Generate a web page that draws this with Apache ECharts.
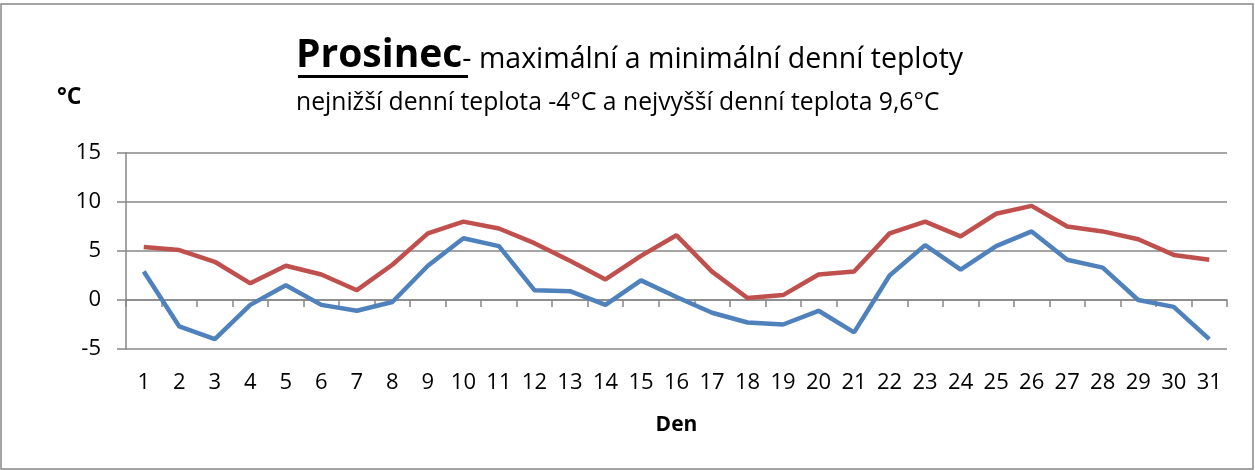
<!DOCTYPE html>
<html>
<head>
<meta charset="utf-8">
<script src="https://cdn.jsdelivr.net/npm/echarts@6/dist/echarts.min.js"></script>
<style>
html, body { margin: 0; padding: 0; background: #fff; }
#chart { width: 1255px; height: 470px; }
</style>
</head>
<body>
<div id="chart"></div>
<script>
var days = [];
for (var d = 1; d <= 31; d++) days.push(String(d));

// denní maxima a minima (°C)
var maxTemp = [5.4, 5.1, 3.9, 1.7, 3.5, 2.6, 1.0, 3.6, 6.8, 8.0, 7.3, 5.8, 4.0, 2.1, 4.5, 6.6,
	2.9, 0.2, 0.5, 2.6, 2.9, 6.8, 8.0, 6.5, 8.8, 9.6, 7.5, 7.0, 6.2, 4.6, 4.1];
var minTemp = [2.9, -2.7, -4.0, -0.5, 1.5, -0.5, -1.1, -0.2, 3.5, 6.3, 5.5, 1.0, 0.9, -0.5, 2.0, 0.3,
	-1.3, -2.3, -2.5, -1.1, -3.3, 2.5, 5.6, 3.1, 5.5, 7.0, 4.1, 3.3, 0.0, -0.7, -4.0];

var FONT = 'Open Sans';
var GRAY = '#878787';

var myChart = echarts.init(document.getElementById('chart'));
var option = {
	animation: false,
	textStyle: { fontFamily: FONT, color: '#000' },
	title: [{
		text: '{a|Prosinec}{b|- maximální a minimální denní teploty}',
		left: 296,
		top: 36,
		padding: 0,
		textStyle: {
			rich: {
				a: { fontFamily: FONT, fontSize: 39, fontWeight: 'bold', color: '#000' },
				b: { fontFamily: FONT, fontSize: 28.5, fontWeight: 'normal', color: '#000', padding: [8, 0, 0, 0] }
			}
		}
	}, {
		text: 'nejnižší denní teplota -4°C a nejvyšší denní teplota 9,6°C',
		left: 296,
		top: 90,
		padding: 0,
		textStyle: { fontFamily: FONT, fontSize: 24.7, fontWeight: 'normal', color: '#000' }
	}, {
		text: '°C',
		left: 57,
		top: 86,
		padding: 0,
		textStyle: { fontFamily: FONT, fontSize: 23, fontWeight: 'bold', color: '#000' }
	}],
	graphic: [{
		type: 'rect',
		shape: { x: 1, y: 4, width: 1252, height: 465 },
		style: { fill: 'none', stroke: GRAY, lineWidth: 1.5 },
		silent: true
	}, {
		// podtržení "Prosinec"
		type: 'rect',
		shape: { x: 298, y: 75, width: 170, height: 3 },
		style: { fill: '#000' },
		silent: true
	}],
	grid: { left: 126, right: 28, top: 153, bottom: 121, outerBoundsMode: 'none', containLabel: false },
	xAxis: {
		type: 'category',
		data: days,
		boundaryGap: true,
		name: 'Den',
		nameLocation: 'middle',
		nameGap: 66,
		nameMoveOverlap: false,
		nameTextStyle: { fontFamily: FONT, fontSize: 21, fontWeight: 'bold', color: '#000' },
		axisLine: { onZero: true, lineStyle: { color: GRAY, width: 1.5 } },
		axisTick: { show: true, alignWithLabel: false, length: 7, lineStyle: { color: GRAY, width: 1.5 } },
		axisLabel: { margin: 23, fontFamily: FONT, fontSize: 22, color: '#000', interval: 0 },
		splitLine: { show: false }
	},
	yAxis: {
		type: 'value',
		min: -5,
		max: 15,
		interval: 5,
		axisLine: { show: true, lineStyle: { color: GRAY, width: 1.5 } },
		axisTick: { show: true, length: 9, inside: false, lineStyle: { color: GRAY, width: 1.5 } },
		axisLabel: { margin: 25, fontFamily: FONT, fontSize: 22, color: '#000' },
		splitLine: { show: true, lineStyle: { color: GRAY, width: 1.5 } }
	},
	series: [{
		name: 'Maximální teplota',
		type: 'line',
		data: maxTemp,
		symbol: 'none',
		lineStyle: { color: '#C0504D', width: 4.5 },
		itemStyle: { color: '#C0504D' }
	}, {
		name: 'Minimální teplota',
		type: 'line',
		data: minTemp,
		symbol: 'none',
		lineStyle: { color: '#4F81BD', width: 4.5 },
		itemStyle: { color: '#4F81BD' }
	}]
};
myChart.setOption(option);
</script>
</body>
</html>
